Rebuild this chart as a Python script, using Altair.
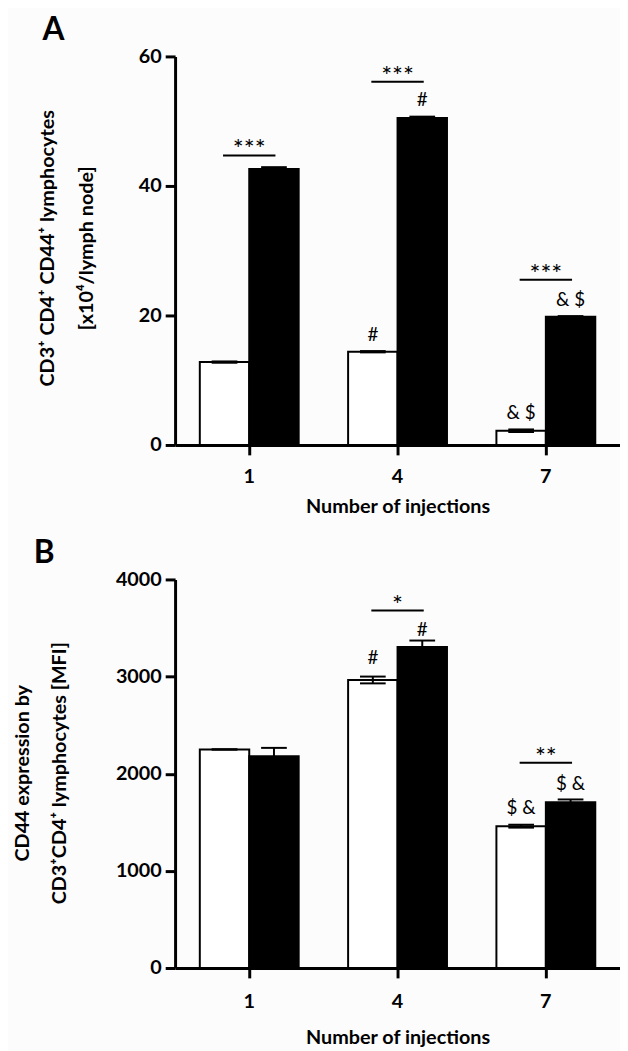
import altair as alt
import pandas as pd

FONT = "Lato"
BG = "#fcfcfd"

injections = ["1", "4", "7"]
groups = ["open", "filled"]

# Panel A values (x10^4 / lymph node)
a_open = [12.8, 14.4, 2.2]
a_filled = [42.6, 50.5, 19.8]
a_open_err = [0.1, 0.1, 0.2]
a_filled_err = [0.3, 0.2, 0.1]
a_sig_cat = ["1", "4", "7"]
a_sig_text = ["***", "***", "***"]
a_sig_line = [44.7, 56.1, 25.5]
a_sig_texty = [45.6, 56.8, 26.3]
a_mark_cat = ["4", "4", "7", "7"]
a_mark_group = ["open", "filled", "open", "filled"]
a_mark_text = ["#", "#", "& $", "& $"]
a_mark_y = [17.0, 53.3, 5.0, 22.4]

# Panel B values (MFI)
b_open = [2250, 2965, 1460]
b_filled = [2180, 3305, 1706]
b_open_err = [0, 35, 15]
b_filled_err = [86, 66, 29]
b_sig_cat = ["4", "7"]
b_sig_text = ["*", "**"]
b_sig_line = [3680, 2114]
b_sig_texty = [3730, 2160]
b_mark_cat = ["4", "4", "7", "7"]
b_mark_group = ["open", "filled", "open", "filled"]
b_mark_text = ["#", "#", "$ &", "$ &"]
b_mark_y = [3190, 3483, 1645, 1897]

a_title = ["CD3\u207a CD4\u207a CD44\u207a lymphocytes", "[x10\u2074/lymph node]"]
b_title = ["CD44 expression by", "CD3\u207aCD4\u207a lymphocytes [MFI]"]
x_title = "Number of injections"


def bars_df(openv, filledv, open_err, filled_err):
    rows = []
    for i, c in enumerate(injections):
        rows.append(dict(inj=c, group="open", value=openv[i],
                         lo=openv[i] - open_err[i], hi=openv[i] + open_err[i]))
        rows.append(dict(inj=c, group="filled", value=filledv[i],
                         lo=filledv[i] - filled_err[i], hi=filledv[i] + filled_err[i]))
    return pd.DataFrame(rows)


def panel(df, sig_df, mark_df, ymax, ystep, title_lines, title_xs, title_y,
          label, label_x, height, lab_pad, title_pad):
    xenc = alt.X("inj:N", sort=injections,
                 scale=alt.Scale(paddingInner=1 / 3, paddingOuter=1 / 6),
                 axis=alt.Axis(title=x_title, labelAngle=0,
                               labelPadding=lab_pad, titlePadding=title_pad))
    xoff = alt.XOffset("group:N", sort=groups,
                       scale=alt.Scale(domain=groups, paddingInner=0, paddingOuter=0))
    yscale = alt.Scale(domain=[0, ymax], nice=False)
    yaxis = alt.Axis(values=list(range(0, ymax + 1, ystep)), title=None,
                     format="d", labelPadding=4)

    bars = alt.Chart(df).mark_bar(stroke="black", strokeWidth=2).encode(
        x=xenc, xOffset=xoff,
        y=alt.Y("value:Q", scale=yscale, axis=yaxis),
        color=alt.Color("group:N", scale=alt.Scale(domain=groups, range=["white", "black"]),
                        legend=None),
    )
    err = alt.Chart(df).mark_rule(color="black", strokeWidth=2).encode(
        x=alt.X("inj:N", sort=injections), xOffset=xoff,
        y=alt.Y("lo:Q", scale=yscale), y2="hi:Q")
    cap_hi = alt.Chart(df).mark_tick(orient="horizontal", size=26, thickness=2,
                                     color="black", opacity=1).encode(
        x=alt.X("inj:N", sort=injections), xOffset=xoff, y=alt.Y("hi:Q", scale=yscale))
    cap_lo = alt.Chart(df).mark_tick(orient="horizontal", size=26, thickness=2,
                                     color="black", opacity=1).encode(
        x=alt.X("inj:N", sort=injections), xOffset=xoff, y=alt.Y("lo:Q", scale=yscale))
    sig_line = alt.Chart(sig_df).mark_tick(orient="horizontal", size=53, thickness=2,
                                           color="black", opacity=1).encode(
        x=alt.X("inj:N", sort=injections), y=alt.Y("line:Q", scale=yscale))
    sig_txt = alt.Chart(sig_df).mark_text(font=FONT, fontSize=26, color="black",
                                          baseline="middle").encode(
        x=alt.X("inj:N", sort=injections), y=alt.Y("ty:Q", scale=yscale), text="text:N")
    mark_txt = alt.Chart(mark_df).mark_text(font=FONT, fontSize=19, color="black",
                                            baseline="middle").encode(
        x=alt.X("inj:N", sort=injections), xOffset=xoff,
        y=alt.Y("y:Q", scale=yscale), text="text:N")
    one = pd.DataFrame({"k": [0]})
    lab = alt.Chart(one).mark_text(font=FONT, fontSize=32, fontWeight="bold", align="left",
                                   baseline="top", color="black").encode(
        x=alt.value(label_x), y=alt.value(-42), text=alt.value(label))
    titles = [
        alt.Chart(one).mark_text(font=FONT, fontSize=20, fontWeight="bold", angle=270,
                                 align="center", baseline="middle", color="black").encode(
            x=alt.value(tx), y=alt.value(title_y), text=alt.value(t))
        for t, tx in zip(title_lines, title_xs)
    ]
    anchor = alt.Chart(one).mark_rule(color=BG, strokeWidth=1).encode(
        x=alt.value(-168), x2=alt.value(-166), y=alt.value(-42))
    return alt.layer(anchor, bars, err, cap_hi, cap_lo, sig_line, sig_txt, mark_txt,
                     lab, *titles).properties(width=450, height=height)


dfa = bars_df(a_open, a_filled, a_open_err, a_filled_err)
dfb = bars_df(b_open, b_filled, b_open_err, b_filled_err)
siga = pd.DataFrame({"inj": a_sig_cat, "text": a_sig_text, "line": a_sig_line, "ty": a_sig_texty})
sigb = pd.DataFrame({"inj": b_sig_cat, "text": b_sig_text, "line": b_sig_line, "ty": b_sig_texty})
marka = pd.DataFrame({"inj": a_mark_cat, "group": a_mark_group, "text": a_mark_text, "y": a_mark_y})
markb = pd.DataFrame({"inj": b_mark_cat, "group": b_mark_group, "text": b_mark_text, "y": b_mark_y})

pa = panel(dfa, siga, marka, 60, 20, a_title, [-128, -89], 194, "A", -134, 393, 12, 10)
pb = panel(dfb, sigb, markb, 4000, 1000, b_title, [-154, -116], 196, "B", -143, 393, 14, 16)

chart = alt.vconcat(pa, pb, spacing=136, bounds="flush").properties(
    padding=0, background=BG
).configure_view(stroke=None).configure_axis(
    domainColor="black", domainWidth=3, tickColor="black", tickWidth=3, tickSize=10,
    labelFont=FONT, labelFontSize=20, labelFontWeight="bold", labelColor="black",
    titleFont=FONT, titleFontSize=20, titleFontWeight="bold", titleColor="black",
    grid=False,
)

chart.save("out.html", embed_options={"renderer": "svg", "actions": False})
